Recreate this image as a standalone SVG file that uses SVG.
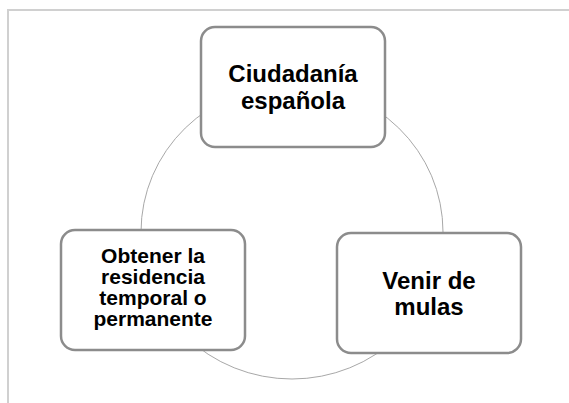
<svg xmlns="http://www.w3.org/2000/svg" width="569" height="403" viewBox="0 0 569 403">
<style>
.frame{fill:none;stroke:#d0d0d0;stroke-width:2}
.ring{fill:none;stroke:#a8a8a8;stroke-width:1}
.box{fill:#ffffff;stroke:#8c8c8c;stroke-width:2.5}
.lbl{font-family:"Liberation Sans",Arial,sans-serif;font-weight:bold;fill:#000000;text-anchor:middle}
</style>
<rect width="569" height="403" fill="#ffffff"/>
<path class="frame" d="M8,403 V10 H569"/>
<g id="connectors">
<ellipse class="ring" cx="292" cy="232" rx="151" ry="147"/>
</g>
<g id="node-ciudadania">
<rect class="box" x="201" y="27" width="184" height="120" rx="14"/>
<text class="lbl" font-size="24" x="293" y="82">Ciudadanía</text>
<text class="lbl" font-size="24" x="293" y="109">española</text>
</g>
<g id="node-venir">
<rect class="box" x="337" y="233" width="184" height="120" rx="14"/>
<text class="lbl" font-size="24" x="429" y="289">Venir de</text>
<text class="lbl" font-size="24" x="429" y="315">mulas</text>
</g>
<g id="node-obtener">
<rect class="box" x="61" y="230" width="184" height="120" rx="14"/>
<text class="lbl" font-size="21" x="153" y="263">Obtener la</text>
<text class="lbl" font-size="21" x="153" y="284">residencia</text>
<text class="lbl" font-size="21" x="153" y="305">temporal o</text>
<text class="lbl" font-size="21" x="153" y="326">permanente</text>
</g>
</svg>
